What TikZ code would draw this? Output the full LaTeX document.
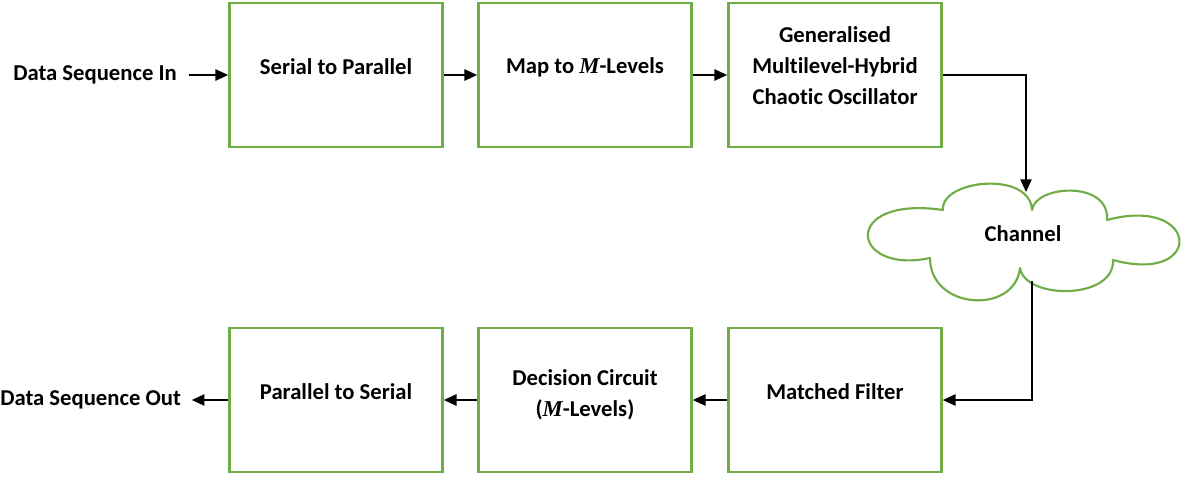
\documentclass[tikz,border=0pt]{standalone}
\usepackage{fontspec}
\setmainfont{Carlito}[Ligatures=NoCommon]
\newfontfamily\mfont{Liberation Serif}
\usetikzlibrary{arrows.meta}
\definecolor{boxgreen}{HTML}{70AD47}
\newcommand{\Mvar}{{\mfont\bfseries\itshape M}}
\begin{document}
\begin{tikzpicture}[x=0.75pt,y=-0.75pt,
  blockbox/.style={draw=boxgreen,line width=1.8pt,minimum width=160pt,minimum height=108pt,inner sep=0pt},
  lbl/.style={font=\fontsize{17}{23}\selectfont\bfseries,align=center,inner sep=0pt},
  arr/.style={-{Triangle[length=9.5pt,width=8.5pt]},line width=1.1pt,black}]
\useasboundingbox (0,0) rectangle (1182,476);
% top row
\node[blockbox] (sp) at (336,75) {};
\node[blockbox] (map) at (585,75) {};
\node[blockbox] (gen) at (835,75) {};
\node[lbl] (sptxt) at ([yshift=6pt]sp.center) {Serial to Parallel};
\node[lbl] (maptxt) at ([yshift=6pt]map.center) {Map to \Mvar-Levels};
\node[lbl] (gentxt) at ([yshift=7pt]gen.center) {Generalised\\Multilevel-Hybrid\\Chaotic Oscillator};
\node[lbl,anchor=west] (din) at (13,75) {Data Sequence In};
% bottom row
\node[blockbox] (ps) at (336,400) {};
\node[blockbox] (dc) at (585,400) {};
\node[blockbox] (mf) at (835,400) {};
\node[lbl] (pstxt) at ([yshift=6pt]ps.center) {Parallel to Serial};
\node[lbl] (dctxt) at ([yshift=4pt]dc.center) {Decision Circuit\\(\Mvar-Levels)};
\node[lbl] (mftxt) at ([yshift=6pt]mf.center) {Matched Filter};
\node[lbl,anchor=west] (dout) at (0,400) {Data Sequence Out};
% cloud
\draw[boxgreen,line width=1.6pt,line join=round]
  (943,210) .. controls (940,180) and (1030,170) .. (1032,210)
  .. controls (1035,185) and (1110,180) .. (1107,220)
  .. controls (1200,195) and (1205,285) .. (1113,260)
  .. controls (1115,300) and (1025,300) .. (1020,268)
  .. controls (1015,315) and (930,310) .. (930,258)
  .. controls (850,275) and (840,195) .. cycle;
\node[lbl] (ch) at (1023,234) {Channel};
\coordinate (chtop) at (1026,192);
\coordinate (chbot) at (1032,281);
% connectors
\draw[arr,shorten <=9pt] (din.east) -- (sp.west);
\draw[arr] (sp.east) -- (map.west);
\draw[arr] (map.east) -- (gen.west);
\draw[arr] (gen.east) -| (chtop);
\draw[arr] (chbot) |- (mf.east);
\draw[arr] (mf.west) -- (dc.east);
\draw[arr] (dc.west) -- (ps.east);
\draw[arr,shorten >=8pt] (ps.west) -- (dout.east);
\end{tikzpicture}
\end{document}
